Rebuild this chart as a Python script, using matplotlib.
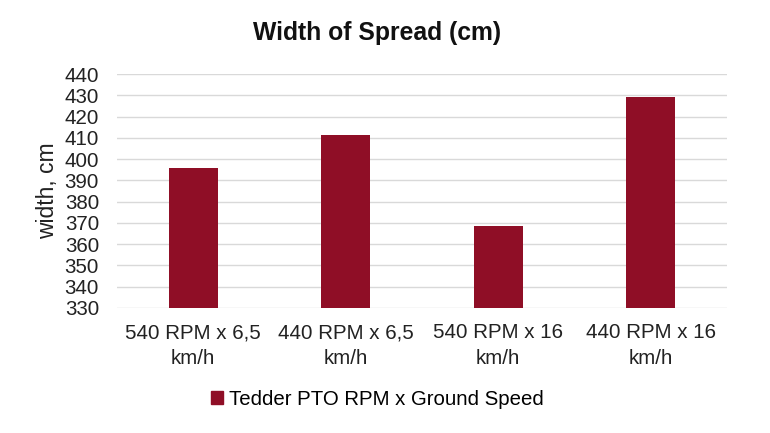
import matplotlib.pyplot as plt
from matplotlib.patches import Patch

plt.rcParams['font.family'] = ['Liberation Sans', 'DejaVu Sans']

categories = ['540 RPM x 6,5\nkm/h', '440 RPM x 6,5\nkm/h', '540 RPM x 16\nkm/h', '440 RPM x 16\nkm/h']
widths = [396, 411.3, 368.3, 429]
series_name = 'Tedder PTO RPM x Ground Speed'
bar_color = '#8F0E26'

fig = plt.figure(figsize=(7.7, 4.33), dpi=100)
ax = fig.add_axes([0.152, 0.289, 0.792, 0.54])

x = range(len(categories))
ax.bar(x, [w - 330 for w in widths], bottom=330, width=0.32, color=bar_color, zorder=3)

ax.set_ylim(330, 440)
ax.set_yticks(range(330, 441, 10))
ax.set_xlim(-0.5, len(categories) - 0.5)
ax.set_xticks(list(x))
ax.set_xticklabels(categories, fontsize=14.8, color='#222222', linespacing=1.45)
ax.tick_params(axis='y', labelsize=14.8, colors='#222222', length=0, pad=13)
ax.tick_params(axis='x', length=0, pad=11)
ax.grid(axis='y', color='#D9D9D9', lw=1, zorder=0)
for s in ax.spines.values():
    s.set_visible(False)

ax.set_ylabel('width, cm', fontsize=16.5, color='#222222', labelpad=4)
fig.text(0.49, 0.924, 'Width of Spread (cm)', ha='center', va='center',
         fontsize=17.8, fontweight='bold', color='#111111')

fig.legend(handles=[Patch(color=bar_color, label=series_name)], loc='center',
           bbox_to_anchor=(0.49, 0.077), frameon=False, fontsize=14.7,
           handlelength=0.6, handleheight=0.6, handletextpad=0.3)

fig.savefig('out.png', dpi=100)
